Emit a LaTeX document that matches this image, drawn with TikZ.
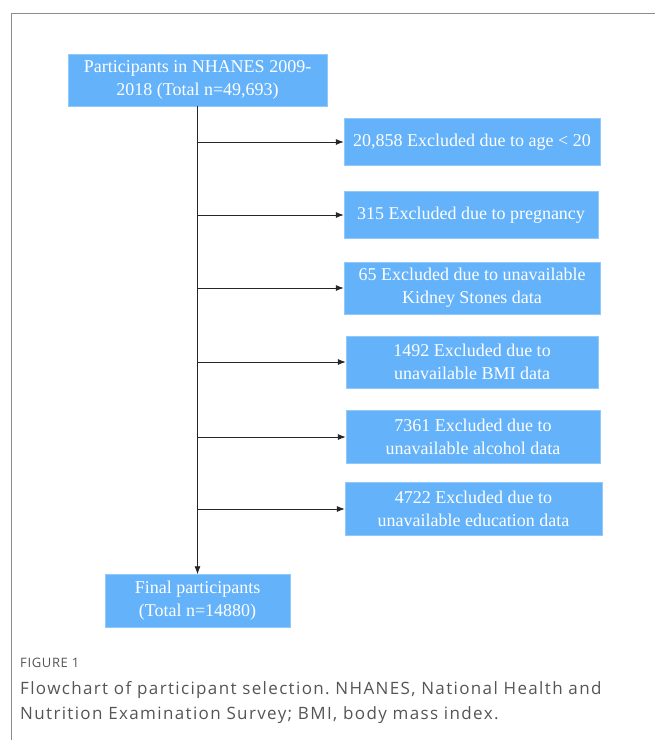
\documentclass[tikz,border=0pt]{standalone}
\usepackage{fontspec}
\setmainfont{Liberation Serif}
\newfontfamily\capfont{Open Sans}[LetterSpace=8]
\newfontfamily\figfont{Open Sans}[LetterSpace=5]
\usetikzlibrary{arrows.meta}
\definecolor{boxblue}{RGB}{100,178,250}
\definecolor{framegray}{RGB}{140,140,140}
\definecolor{capgray}{RGB}{85,85,85}
\frenchspacing
\begin{document}
\begin{tikzpicture}[x=1pt,y=-1pt,
    every node/.style={rectangle,fill=boxblue,draw=boxblue!70!white,text=white,align=center,font=\fontsize{18}{23}\selectfont,inner sep=0pt},
    flow/.style={draw=black!85,line width=0.8pt,-{Latex[length=8pt,width=6pt]}}]
    \useasboundingbox (0,0) rectangle (655,740);
    % frame
    \draw[framegray,line width=0.8pt] (655,13) -- (11,13) -- (11,740);
    % boxes
    \node[minimum width=259pt,minimum height=52pt] (start) at (197.5,80) {Participants in NHANES 2009-\\2018 (Total n=49,693)};
    \node[minimum width=256pt,minimum height=47pt] (ex1) at (472,142) {20,858 Excluded due to age < 20};
    \node[minimum width=254pt,minimum height=47pt] (ex2) at (471,215) {315 Excluded due to pregnancy};
    \node[minimum width=256pt,minimum height=52pt] (ex3) at (472,288) {65 Excluded due to unavailable\\Kidney Stones data};
    \node[minimum width=252pt,minimum height=52pt] (ex4) at (472,362) {1492 Excluded due to\\unavailable BMI data};
    \node[minimum width=254pt,minimum height=53pt] (ex5) at (473,437) {7361 Excluded due to\\unavailable alcohol data};
    \node[minimum width=257pt,minimum height=53pt] (ex6) at (473.5,509) {4722 Excluded due to\\unavailable education data};
    \node[minimum width=185pt,minimum height=53pt] (final) at (197.5,601) {Final participants\\(Total n=14880)};
    % connectors
    \draw[flow] (start.south) -- (final.north);
    \foreach \n in {ex1,ex2,ex3,ex4,ex5,ex6}
        \draw[flow] (start.south |- \n.west) -- (\n.west);
    % caption
    \begin{scope}[every node/.style={anchor=base west,text=capgray,inner sep=0pt}]
    \node (figlab) at (20,667) {\figfont\fontsize{13}{15}\selectfont FIGURE 1};
    \node (cap1) at (20,694) {\capfont\fontsize{17}{20}\selectfont Flowchart of participant selection. NHANES, National Health and};
    \node (cap2) at (20,719) {\capfont\fontsize{17}{20}\selectfont Nutrition Examination Survey; BMI, body mass index.};
    \end{scope}
\end{tikzpicture}
\end{document}
